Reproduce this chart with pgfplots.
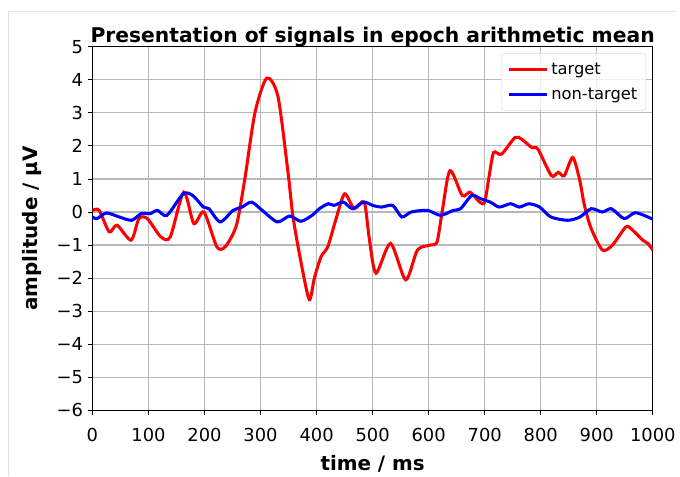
\documentclass[border=0pt]{standalone}
\usepackage{fontspec}
\setmainfont{DejaVu Sans}
\usepackage{pgfplots}
\pgfplotsset{compat=1.18}

% averaged epochs
\pgfplotstableread{
t     amp
0     0.05
12    0.05
30   -0.60
44   -0.40
69   -0.85
83   -0.20
98   -0.20
122  -0.75
139  -0.75
163   0.60
181  -0.35
199   0.00
222  -1.05
237  -1.05
257  -0.40
272   1.00
290   3.00
311   4.05
331   3.50
349   1.20
358  -0.15
372  -1.50
387  -2.65
396  -2.00
408  -1.35
420  -1.05
434  -0.25
450   0.55
467   0.10
485   0.30
494  -0.80
506  -1.85
532  -0.95
559  -2.05
580  -1.15
603  -1.00
615  -0.90
624   0.00
638   1.25
660   0.50
674   0.60
691   0.30
700   0.30
708   1.10
716   1.80
730   1.75
754   2.25
766   2.20
784   1.95
795   1.90
819   1.10
831   1.20
842   1.10
857   1.65
869   1.00
878   0.20
890  -0.50
910  -1.15
928  -1.00
952  -0.45
964  -0.55
982  -0.85
991  -0.95
1000 -1.15
}\target

\pgfplotstableread{
t     amp
0    -0.15
8    -0.20
25   -0.03
48   -0.15
70   -0.25
87   -0.05
103  -0.05
116   0.05
133  -0.10
162   0.55
179   0.50
198   0.15
208   0.10
228  -0.30
251   0.05
267   0.15
284   0.30
303   0.05
330  -0.30
352  -0.12
372  -0.28
392  -0.10
405   0.10
421   0.25
431   0.20
448   0.30
464   0.10
484   0.30
500   0.20
516   0.15
536   0.20
552  -0.15
569   0.00
598   0.05
621  -0.10
644   0.05
657   0.10
677   0.50
693   0.40
710   0.30
726   0.15
746   0.25
762   0.15
779   0.25
798   0.15
818  -0.15
848  -0.25
870  -0.15
890   0.10
910   0.00
926   0.10
949  -0.20
969  -0.02
998  -0.20
1000 -0.20
}\nontarget

\begin{document}
\begin{tikzpicture}
\begin{axis}[
  scale only axis,
  width=423pt, height=274.5pt,
  xmin=0, xmax=1000, ymin=-6, ymax=5,
  xtick={0,100,200,300,400,500,600,700,800,900,1000},
  ytick={-6,-5,-4,-3,-2,-1,0,1,2,3,4,5},
  yticklabels={−6,−5,−4,−3,−2,−1,0,1,2,3,4,5},
  /pgf/number format/assume math mode=true,
  /pgf/number format/1000 sep={},
  ticklabel style={font=\fontsize{13.5}{15}\selectfont},
  xticklabel style={yshift=-6.5pt},
  tick align=outside, tick pos=left,
  major tick length=3.5pt,
  tick style={black, line width=0.6pt},
  axis line style={black, line width=0.6pt},
  grid=major,
  grid style={color=black!28, line width=0.9pt},
  title={\bfseries Presentation of signals in epoch arithmetic mean},
  title style={font=\fontsize{15.3}{17}\selectfont, yshift=-10pt},
  xlabel={\bfseries time / ms},
  ylabel={\bfseries amplitude / µV},
  label style={font=\fontsize{15}{17}\selectfont},
  xlabel style={yshift=-3.5pt},
  ylabel style={yshift=4.5pt},
  legend cell align=left,
  legend style={at={(1,1)}, anchor=north east, xshift=-5pt, yshift=-5pt,
    draw=black!15, rounded corners=2pt, fill=white, fill opacity=0.8,
    text opacity=1, font=\fontsize{12.3}{14}\selectfont,
    inner xsep=4.5pt, inner ysep=5pt, row sep=4.5pt},
  legend image code/.code={\draw[#1, line width=2.3pt] (0pt,0pt) -- (29pt,0pt);},
]
\addplot[red, line width=2.3pt, smooth, tension=0.45] table[x=t, y=amp] {\target};
\addplot[blue, line width=2.3pt, smooth, tension=0.45] table[x=t, y=amp] {\nontarget};
\legend{target, non-target}
\end{axis}
% page frame like the notebook output cell
\path[use as bounding box] (-69.75pt,-49.5pt) rectangle (440.25pt,309.75pt);
\draw[black!12, line width=0.6pt] (-63.75pt,-49.5pt) -- (-63.75pt,301.5pt) -- (440.25pt,301.5pt);
\end{tikzpicture}
\end{document}
